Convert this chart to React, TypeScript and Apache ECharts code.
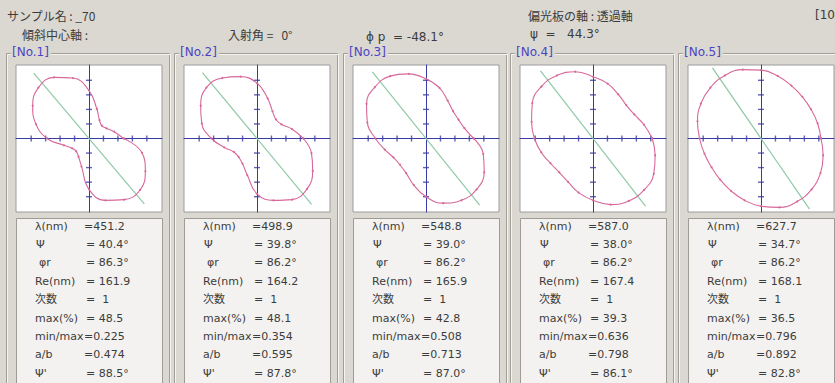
import React, { useEffect, useRef } from 'react';
import * as echarts from 'echarts';

// ---------- data ----------
const panelNames = ['[No.1]', '[No.2]', '[No.3]', '[No.4]', '[No.5]'];
const angleDeg = [0, 15, 30, 45, 60, 75, 90, 105, 120, 135, 150, 165, 180, 195, 210, 225, 240, 255, 270, 285, 300, 315, 330, 345];
// radius (units: 1/5 of the plot maximum = 1 tick)
const radiusNo1 = [2.4, 1.8, 1.4, 1.25, 1.45, 2.1, 3.3, 4.3, 4.85, 4.95, 4.5, 3.8, 2.9, 1.8, 1.35, 1.25, 1.45, 2.0, 3.5, 4.4, 4.85, 5.0, 4.5, 3.8];
const radiusNo2 = [3.2, 2.5, 1.95, 1.85, 2.15, 2.85, 3.8, 4.4, 4.8, 4.95, 4.5, 3.95, 3.15, 2.35, 1.85, 1.8, 2.0, 2.6, 3.8, 4.4, 4.85, 4.9, 4.45, 3.9];
const radiusNo3 = [3.3, 2.75, 2.6, 2.65, 3.0, 3.6, 4.1, 4.6, 4.95, 5.0, 4.75, 4.2, 3.5, 2.95, 2.6, 2.55, 2.75, 3.3, 4.0, 4.6, 4.9, 4.95, 4.65, 4.1];
const radiusNo4 = [4.1, 3.65, 3.3, 3.25, 3.5, 3.9, 4.25, 4.75, 5.0, 5.05, 4.85, 4.4, 4.05, 3.7, 3.4, 3.3, 3.45, 3.85, 4.25, 4.7, 4.95, 5.0, 4.85, 4.45];
const radiusNo5 = [4.15, 4.05, 4.0, 4.05, 4.2, 4.45, 4.7, 4.9, 5.0, 4.95, 4.8, 4.55, 4.25, 4.05, 3.95, 4.0, 4.15, 4.4, 4.65, 4.9, 5.0, 4.95, 4.75, 4.45];
const radii = [radiusNo1, radiusNo2, radiusNo3, radiusNo4, radiusNo5];
const tickPositions = [-4, -3, -2, -1, 1, 2, 3, 4];

const lambdaNm = [451.2, 498.9, 548.8, 587.0, 627.7];
const psi = [40.4, 39.8, 39.0, 38.0, 34.7];
const phiR = [86.3, 86.2, 86.2, 86.2, 86.2];
const reNm = [161.9, 164.2, 165.9, 167.4, 168.1];
const orderN = [1, 1, 1, 1, 1];
const maxPct = [48.5, 48.1, 42.8, 39.3, 36.5];
const minMax = [0.225, 0.354, 0.508, 0.636, 0.796];
const aOverB = [0.474, 0.595, 0.713, 0.798, 0.892];
const psiPrime = [88.5, 87.8, 87.0, 86.1, 82.8];

const sampleName = '_70';
const incidenceAngle = 0;
const phiP = -48.1;
const polarizerAxis = '透過軸';
const psiHeader = 44.3;

// ---------- layout / style ----------
const W = 835;
const H = 383;
const boxLeft = [16, 184, 353, 520, 688];
const BOX_W = 146;
const PLOT_TOP = 65;
const PLOT_H = 147;
const TEXT_TOP = 218;
const RANGE = 5.05;
const GREEN_LEN = 5.9;
const BG = '#dbd8d1';
const AXIS_C = '#3a3aa4';
const CURVE_C = '#d7689a';
const GREEN_C = '#8fcaa6';
const TEXT_C = '#3c3c3c';
const FONT = '11px "DejaVu Sans", "Noto Sans CJK JP", sans-serif';
const HFONT = '12px "DejaVu Sans", "Noto Sans CJK JP", sans-serif';
const JFONT = '12px "Noto Sans CJK JP", sans-serif';

const rows = [
  { label: 'λ(nm)', lx: 19, eqX: 68, gap: '', fmt: (i: number) => lambdaNm[i].toFixed(1) },
  { label: 'Ψ', lx: 20, eqX: 70, gap: ' ', fmt: (i: number) => psi[i].toFixed(1) + '°' },
  { label: 'φr', lx: 23, eqX: 70, gap: ' ', fmt: (i: number) => phiR[i].toFixed(1) + '°' },
  { label: 'Re(nm)', lx: 19, eqX: 70, gap: ' ', fmt: (i: number) => reNm[i].toFixed(1) },
  { label: '次数', lx: 19, eqX: 70, gap: '  ', fmt: (i: number) => String(orderN[i]) },
  { label: 'max(%)', lx: 19, eqX: 70, gap: ' ', fmt: (i: number) => maxPct[i].toFixed(1) },
  { label: 'min/max', lx: 19, eqX: 68, gap: '', fmt: (i: number) => minMax[i].toFixed(3) },
  { label: 'a/b', lx: 19, eqX: 68, gap: '', fmt: (i: number) => aOverB[i].toFixed(3) },
  { label: "Ψ'", lx: 19, eqX: 70, gap: ' ', fmt: (i: number) => psiPrime[i].toFixed(1) + '°' },
];
const ROW_Y0 = 226;
const ROW_DY = 18.4;

function txt(text: string, x: number, y: number, fill = TEXT_C, font = FONT, z = 10) {
  return { type: 'text', x, y, z, silent: true, style: { text, fill, font, verticalAlign: 'middle' } };
}

function buildOption() {
  const grid: any[] = [];
  const xAxis: any[] = [];
  const yAxis: any[] = [];
  const series: any[] = [];
  const graphic: any[] = [];

  // header
  graphic.push(txt(`サンプル名 : ${sampleName}`, 7, 15, TEXT_C, JFONT));
  graphic.push(txt('傾斜中心軸 :', 22, 34, TEXT_C, JFONT));
  graphic.push(txt(`入射角 =   ${incidenceAngle}°`, 228, 34, TEXT_C, JFONT));
  graphic.push(txt(`ϕ p  = ${phiP.toFixed(1)}°`, 366, 37, TEXT_C, HFONT));
  graphic.push(txt(`偏光板の軸 : ${polarizerAxis}`, 528, 15, TEXT_C, JFONT));
  graphic.push(txt(`ψ  =   ${psiHeader.toFixed(1)}°`, 530, 34, TEXT_C, HFONT));
  graphic.push(txt('[10', 815, 15, TEXT_C, HFONT));

  for (let i = 0; i < 5; i++) {
    const bx = boxLeft[i];
    // group box frame
    graphic.push({ type: 'rect', z: 1, silent: true, shape: { x: bx - 9.5, y: 53.5, width: BOX_W + 17, height: 360 }, style: { fill: 'none', stroke: '#a19e97', lineWidth: 1 } });
    graphic.push({ type: 'rect', z: 1, silent: true, shape: { x: bx - 8.5, y: 54.5, width: BOX_W + 17, height: 360 }, style: { fill: 'none', stroke: '#f5f4f1', lineWidth: 1 } });
    graphic.push({ type: 'rect', z: 2, silent: true, shape: { x: bx - 5, y: 45, width: 40, height: 14 }, style: { fill: BG } });
    graphic.push(txt(panelNames[i], bx - 4, 52, '#4a44c4', HFONT, 3));
    // text box
    graphic.push({ type: 'rect', z: 2, silent: true, shape: { x: bx + 0.5, y: TEXT_TOP + 0.5, width: BOX_W, height: 200 }, style: { fill: '#f3f2f0', stroke: '#9f9c96', lineWidth: 1 } });
    rows.forEach((r, k) => {
      const y = ROW_Y0 + k * ROW_DY;
      graphic.push(txt(r.label, bx + r.lx, y));
      graphic.push(txt('=' + r.gap + r.fmt(i), bx + r.eqX, y));
    });

    grid.push({ left: bx, top: PLOT_TOP, width: BOX_W, height: PLOT_H, show: true, backgroundColor: '#ffffff', borderColor: '#9c9c9c', borderWidth: 1 });
    const axisCommon = {
      gridIndex: i, type: 'value', min: -RANGE, max: RANGE,
      axisLine: { show: true, onZero: true, lineStyle: { color: AXIS_C, width: 1 } },
      axisTick: { show: false }, axisLabel: { show: false }, splitLine: { show: false },
    };
    xAxis.push({ ...axisCommon });
    yAxis.push({ ...axisCommon });

    series.push({
      type: 'scatter', xAxisIndex: i, yAxisIndex: i, silent: true, z: 3,
      symbol: 'rect', symbolSize: [1.4, 6], itemStyle: { color: AXIS_C },
      data: tickPositions.map((t) => [t, 0]),
    });
    series.push({
      type: 'scatter', xAxisIndex: i, yAxisIndex: i, silent: true, z: 3,
      symbol: 'rect', symbolSize: [6, 1.4], itemStyle: { color: AXIS_C },
      data: tickPositions.map((t) => [0, t]),
    });
    const a = ((90 + psi[i]) * Math.PI) / 180;
    series.push({
      type: 'line', xAxisIndex: i, yAxisIndex: i, silent: true, z: 4, showSymbol: false,
      lineStyle: { color: GREEN_C, width: 1.2 },
      data: [[GREEN_LEN * Math.cos(a), GREEN_LEN * Math.sin(a)], [-GREEN_LEN * Math.cos(a), -GREEN_LEN * Math.sin(a)]],
    });
    const pts = angleDeg.map((d, k) => {
      const t = (d * Math.PI) / 180;
      return [radii[i][k] * Math.cos(t), radii[i][k] * Math.sin(t)];
    });
    pts.push(pts[0]);
    series.push({
      type: 'line', xAxisIndex: i, yAxisIndex: i, silent: true, z: 5, smooth: 0.45,
      showSymbol: true, symbol: 'circle', symbolSize: 2,
      itemStyle: { color: CURVE_C }, lineStyle: { color: CURVE_C, width: 1.1 },
      data: pts,
    });
  }

  return { animation: false, backgroundColor: BG, grid, xAxis, yAxis, series, graphic };
}

export default function App() {
  const ref = useRef<HTMLDivElement>(null);
  useEffect(() => {
    if (!ref.current) return;
    const chart = echarts.init(ref.current, undefined, { renderer: 'svg' });
    chart.setOption(buildOption() as any);
    return () => chart.dispose();
  }, []);
  return <div ref={ref} style={{ position: 'fixed', left: 0, top: 0, width: W, height: H }} />;
}
